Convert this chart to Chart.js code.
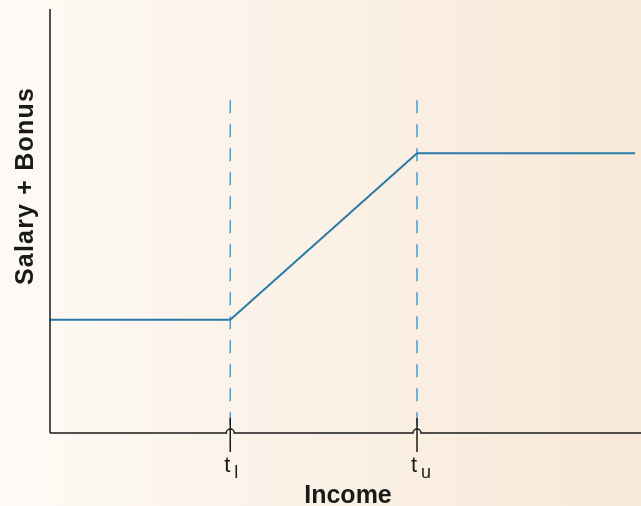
<!DOCTYPE html>
<html>
<head>
<meta charset="utf-8">
<script src="https://cdn.jsdelivr.net/npm/chart.js@4"></script>
<style>
  html, body { margin: 0; padding: 0; background: #fbf3ea; }
  #wrap { width: 641px; height: 506px; position: relative; }
</style>
</head>
<body>
<div id="wrap"><canvas id="payChart"></canvas></div>
<script>
// Income breakpoints and pay levels (axis units 0-100)
const incomeRange = [0, 100];
const payRange = [0, 100];
const thresholds = [30.5, 62.1];
const thresholdNames = ['l', 'u'];
const payIncome = [0, 30.5, 62.1, 99];
const payValues = [26.7, 26.7, 66, 66];
const markerTop = 78.5;

const payData = payIncome.map((x, i) => ({ x: x, y: payValues[i] }));

// dashed markers run top-down so the dash pattern starts at the top
const markerSets = thresholds.map(t => ({
  data: [{ x: t, y: markerTop }, { x: t, y: payRange[0] }],
  borderColor: '#3fa0d8',
  borderWidth: 1.5,
  borderDash: [13, 11],
  pointRadius: 0,
  fill: false
}));

const FONT = '"Liberation Sans", Arial, sans-serif';

// background, axes, hop ticks and titles
const decor = {
  id: 'decor',
  beforeDraw(chart) {
    const c = chart.ctx;
    const g = c.createLinearGradient(0, 0, chart.width, 0);
    g.addColorStop(0, '#fdfaf5');
    g.addColorStop(1, '#f8e8d7');
    c.save();
    c.fillStyle = g;
    c.fillRect(0, 0, chart.width, chart.height);
    c.restore();
  },
  afterDraw(chart) {
    const c = chart.ctx;
    const a = chart.chartArea;
    const xs = chart.scales.x;
    const r = 4;
    c.save();
    c.strokeStyle = '#1a1a1a';
    c.lineWidth = 1.5;

    // y axis
    c.beginPath();
    c.moveTo(a.left, a.top);
    c.lineTo(a.left, a.bottom);
    c.stroke();

    // x axis with a small hop at each threshold
    const hops = thresholds.map(t => xs.getPixelForValue(t));
    c.beginPath();
    c.moveTo(a.left, a.bottom);
    hops.forEach(px => {
      c.lineTo(px - r, a.bottom);
      c.arc(px, a.bottom, r, Math.PI, 0, false);
    });
    c.lineTo(a.right, a.bottom);
    c.stroke();

    // tick marks through the hops
    hops.forEach(px => {
      c.beginPath();
      c.moveTo(px, a.bottom - 15);
      c.lineTo(px, a.bottom + 19);
      c.stroke();
    });

    // tick labels t with subscript
    c.fillStyle = '#1a1a1a';
    c.textBaseline = 'alphabetic';
    hops.forEach((px, i) => {
      c.font = '22px ' + FONT;
      c.textAlign = 'right';
      c.fillText('t', px, a.bottom + 39);
      c.font = '18px ' + FONT;
      c.textAlign = 'left';
      c.fillText(thresholdNames[i], px + 4, a.bottom + 45);
    });

    // axis titles
    c.font = 'bold 25px ' + FONT;
    c.textAlign = 'center';
    c.fillText('Income', 348, 503);
    c.translate(33, 186);
    c.rotate(-Math.PI / 2);
    c.letterSpacing = '1.2px';
    c.fillText('Salary + Bonus', 0, 0);
    c.restore();
  }
};

new Chart(document.getElementById('payChart'), {
  type: 'line',
  data: {
    datasets: [{
      data: payData,
      borderColor: '#2a7aa9',
      borderWidth: 2,
      pointRadius: 0,
      tension: 0,
      fill: false
    }].concat(markerSets)
  },
  options: {
    responsive: true,
    maintainAspectRatio: false,
    animation: false,
    layout: { padding: { left: 50, top: 9, right: 0, bottom: 73 } },
    plugins: { legend: { display: false }, tooltip: { enabled: false } },
    scales: {
      x: { type: 'linear', min: incomeRange[0], max: incomeRange[1], display: false },
      y: { type: 'linear', min: payRange[0], max: payRange[1], display: false }
    }
  },
  plugins: [decor]
});
</script>
</body>
</html>
